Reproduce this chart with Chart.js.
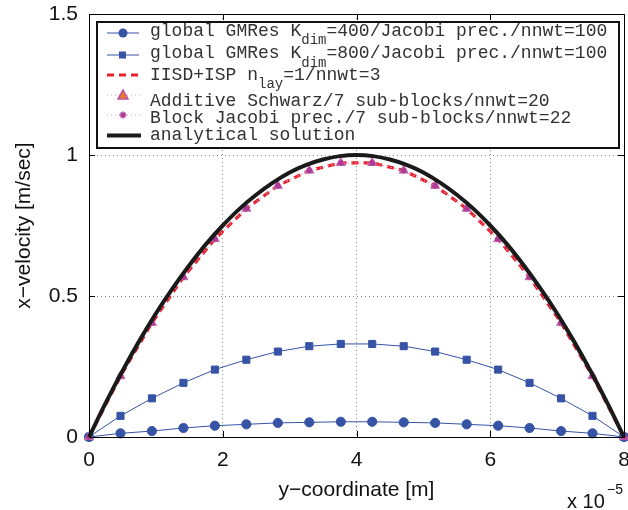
<!DOCTYPE html>
<html>
<head>
<meta charset="utf-8">
<script src="https://cdn.jsdelivr.net/npm/chart.js@4"></script>
<style>
  body { margin: 0; background: #fff; }
  canvas { display: block; }
</style>
</head>
<body>
<canvas id="canvas" width="628" height="510"></canvas>
<script>
const canvas = document.getElementById('canvas');
const ctx = canvas.getContext('2d');

// node positions (x 10^-5 m)
const yCoord = [0, 0.471, 0.941, 1.412, 1.882, 2.353, 2.824, 3.294, 3.765,
  4.235, 4.706, 5.176, 5.647, 6.118, 6.588, 7.059, 7.529, 8];
const gmres400 = [0, 0.013, 0.021, 0.032, 0.040, 0.045, 0.050, 0.052, 0.054,
  0.054, 0.052, 0.050, 0.045, 0.040, 0.032, 0.021, 0.013, 0];
const gmres800 = [0, 0.075, 0.137, 0.192, 0.239, 0.274, 0.303, 0.322, 0.330,
  0.330, 0.322, 0.303, 0.274, 0.239, 0.192, 0.137, 0.075, 0];
const iisd = [0, 0.216, 0.405, 0.567, 0.702, 0.810, 0.891, 0.945, 0.972,
  0.972, 0.945, 0.891, 0.810, 0.702, 0.567, 0.405, 0.216, 0];
const schwarz = [0, 0.216, 0.405, 0.567, 0.702, 0.810, 0.891, 0.945, 0.972,
  0.972, 0.945, 0.891, 0.810, 0.702, 0.567, 0.405, 0.216, 0];
const blockJacobi = [0, 0.216, 0.405, 0.567, 0.702, 0.810, 0.891, 0.945, 0.972,
  0.972, 0.945, 0.891, 0.810, 0.702, 0.567, 0.405, 0.216, 0];

// analytical curve
const yExact = [0, 0.25, 0.5, 0.75, 1, 1.25, 1.5, 1.75, 2, 2.25, 2.5, 2.75, 3, 3.25, 3.5, 3.75, 4,
  4.25, 4.5, 4.75, 5, 5.25, 5.5, 5.75, 6, 6.25, 6.5, 6.75, 7, 7.25, 7.5, 7.75, 8];
const vExact = [0, 0.121, 0.234, 0.340, 0.438, 0.527, 0.609, 0.684, 0.750, 0.809, 0.859, 0.902,
  0.938, 0.965, 0.984, 0.996, 1, 0.996, 0.984, 0.965, 0.938, 0.902, 0.859, 0.809, 0.750,
  0.684, 0.609, 0.527, 0.438, 0.340, 0.234, 0.121, 0];

const xTicks = [0, 2, 4, 6, 8];
const yTicks = [0, 0.5, 1, 1.5];

// legend: [main text, subscript, rest]
const legendRows = [
  ['global GMRes K', 'dim', '=400/Jacobi prec./nnwt=100'],
  ['global GMRes K', 'dim', '=800/Jacobi prec./nnwt=100'],
  ['IISD+ISP n', 'lay', '=1/nnwt=3'],
  ['Additive Schwarz/7 sub-blocks/nnwt=20', '', ''],
  ['Block Jacobi prec./7 sub-blocks/nnwt=22', '', ''],
  ['analytical solution', '', '']
];

const blue = '#3653a5';
const red = '#e8202a';
const pink = '#e39ccf';
const magenta = '#b8509f';

function pts(xs, ys) {
  return xs.map((x, i) => ({x: x, y: ys[i]}));
}

const data = {
  datasets: [
    {
      data: pts(yCoord, gmres400), borderColor: blue, backgroundColor: blue,
      borderWidth: 1, pointStyle: 'circle', pointRadius: 4.6, order: 6
    },
    {
      data: pts(yCoord, gmres800), borderColor: blue, backgroundColor: blue,
      borderWidth: 1, pointStyle: 'rect', pointRadius: 5, order: 5
    },
    {
      data: pts(yCoord, iisd), borderColor: red, borderWidth: 3.2,
      borderDash: [7, 5], pointRadius: 0, order: 4
    },
    {
      data: pts(yCoord, schwarz), borderColor: pink, borderWidth: 1,
      borderDash: [1, 3], pointStyle: 'triangle', pointRadius: 5.2,
      pointBackgroundColor: magenta, pointBorderColor: '#c36aae', pointBorderWidth: 1, order: 3
    },
    {
      data: pts(yCoord, blockJacobi), borderColor: pink, borderWidth: 1,
      borderDash: [1, 3], pointStyle: 'star', pointRadius: 3,
      pointBorderColor: '#b03a95', pointBorderWidth: 1.5, order: 2
    },
    {
      data: pts(yExact, vExact), borderColor: '#1a1a1a', borderWidth: 4,
      pointRadius: 0, tension: 0.3, order: 1
    }
  ]
};

const axisFont = {family: '"Liberation Sans", Arial, sans-serif', size: 21};

// frame, inward ticks, legend, exponent label
const extras = {
  id: 'extras',
  afterDatasetsDraw(chart) {
    const c = chart.ctx;
    const a = chart.chartArea;
    const xs = chart.scales.x, ys = chart.scales.y;
    c.save();
    c.strokeStyle = '#000';
    c.lineWidth = 1;
    c.beginPath();
    c.rect(Math.round(a.left) + 0.5, Math.round(a.top) + 0.5,
      Math.round(a.right - a.left), Math.round(a.bottom - a.top));
    c.stroke();
    c.beginPath();
    xTicks.forEach(t => {
      const px = Math.round(xs.getPixelForValue(t)) + 0.5;
      c.moveTo(px, a.bottom); c.lineTo(px, a.bottom - 6);
      c.moveTo(px, a.top); c.lineTo(px, a.top + 6);
    });
    yTicks.forEach(t => {
      const py = Math.round(ys.getPixelForValue(t)) + 0.5;
      c.moveTo(a.left, py); c.lineTo(a.left + 6, py);
      c.moveTo(a.right, py); c.lineTo(a.right - 6, py);
    });
    c.stroke();

    // legend box
    c.fillStyle = '#fff';
    c.fillRect(97, 22, 522, 126);
    c.lineWidth = 2;
    c.strokeStyle = '#111';
    c.strokeRect(97, 22, 522, 126);

    const textY = [31, 53.5, 75, 101, 118, 135];
    const markY = [33, 55, 75, 95, 115, 135.5];
    const mono = '"Liberation Mono", "Courier New", monospace';
    c.textBaseline = 'middle';
    c.textAlign = 'left';
    legendRows.forEach((r, i) => {
      let x = 150;
      c.fillStyle = '#333';
      c.font = '18px ' + mono;
      c.fillText(r[0], x, textY[i]);
      x += c.measureText(r[0]).width;
      if (r[1]) {
        c.font = '14px ' + mono;
        c.fillText(r[1], x, textY[i] + 9.5);
        x += c.measureText(r[1]).width;
        c.font = '18px ' + mono;
        c.fillText(r[2], x, textY[i]);
      }
    });

    const y0 = markY;
    c.lineWidth = 1;
    c.setLineDash([]);
    // row 1, 2
    [0, 1].forEach(i => {
      c.strokeStyle = blue;
      c.beginPath(); c.moveTo(107, y0[i]); c.lineTo(139, y0[i]); c.stroke();
    });
    c.fillStyle = blue;
    c.beginPath(); c.arc(123, y0[0], 4.5, 0, Math.PI * 2); c.fill();
    c.fillRect(119, y0[1] - 3.5, 7, 7);
    // row 3
    c.strokeStyle = red; c.lineWidth = 3.2; c.setLineDash([7, 5]);
    c.beginPath(); c.moveTo(107, y0[2]); c.lineTo(141, y0[2]); c.stroke();
    // row 4, 5 dotted
    c.strokeStyle = pink; c.lineWidth = 1; c.setLineDash([1, 3]);
    [3, 4].forEach(i => {
      c.beginPath(); c.moveTo(107, y0[i]); c.lineTo(140, y0[i]); c.stroke();
    });
    c.setLineDash([]);
    c.fillStyle = '#e8772e'; c.strokeStyle = '#c0509e'; c.lineWidth = 1.5;
    c.beginPath();
    c.moveTo(123, y0[3] - 5); c.lineTo(128, y0[3] + 4); c.lineTo(118, y0[3] + 4); c.closePath();
    c.fill(); c.stroke();
    c.strokeStyle = '#b03a95'; c.lineWidth = 1.5;
    c.beginPath();
    for (let k = 0; k < 4; k++) {
      const ang = k * Math.PI / 4;
      c.moveTo(123 - 3.5 * Math.cos(ang), y0[4] - 3.5 * Math.sin(ang));
      c.lineTo(123 + 3.5 * Math.cos(ang), y0[4] + 3.5 * Math.sin(ang));
    }
    c.stroke();
    // row 6
    c.strokeStyle = '#1a1a1a'; c.lineWidth = 4;
    c.beginPath(); c.moveTo(107, y0[5]); c.lineTo(141, y0[5]); c.stroke();

    // exponent label
    c.fillStyle = '#111';
    c.font = '20px "Liberation Sans", Arial, sans-serif';
    c.fillText('x 10', 567, 502);
    c.font = '14px "Liberation Sans", Arial, sans-serif';
    c.fillText('\u22125', 607, 490);
    c.restore();
  }
};

function noPad(s) {
  s.paddingLeft = 0; s.paddingRight = 0; s.paddingTop = 0; s.paddingBottom = 0;
}

const options = {
  responsive: false,
  animation: false,
  layout: {padding: {top: 14, right: 4, left: 0, bottom: 0}, autoPadding: false},
  plugins: {legend: {display: false}, tooltip: {enabled: false}},
  elements: {line: {fill: false}},
  datasets: {line: {clip: false}},
  scales: {
    x: {
      type: 'linear', min: 0, max: 8,
      afterBuildTicks: s => { s.ticks = xTicks.map(v => ({value: v})); },
      afterFit: s => { s.height = 73; noPad(s); },
      grid: {color: '#8a8a8a', lineWidth: 1, drawTicks: false},
      border: {display: false, dash: [1, 3]},
      ticks: {color: '#111', font: axisFont, padding: 11, maxRotation: 0,
        callback: v => String(v)},
      title: {display: true, text: 'y\u2212coordinate [m]', color: '#111', font: axisFont,
        padding: {top: 0, bottom: 7}}
    },
    y: {
      type: 'linear', min: 0, max: 1.5,
      afterBuildTicks: s => { s.ticks = yTicks.map(v => ({value: v})); },
      afterFit: s => { s.width = 89; noPad(s); },
      grid: {color: '#8a8a8a', lineWidth: 1, drawTicks: false},
      border: {display: false, dash: [1, 3]},
      ticks: {color: '#111', font: axisFont, padding: 11, callback: v => String(v)},
      title: {display: true, text: 'x\u2212velocity [m/sec]', color: '#111', font: axisFont,
        padding: {top: 12, bottom: 0}}
    }
  }
};

function graph() {
  new Chart(ctx, {
    type: 'line',
    data: data,
    options: options,
    plugins: [extras]
  });
}
graph();
</script>
</body>
</html>
